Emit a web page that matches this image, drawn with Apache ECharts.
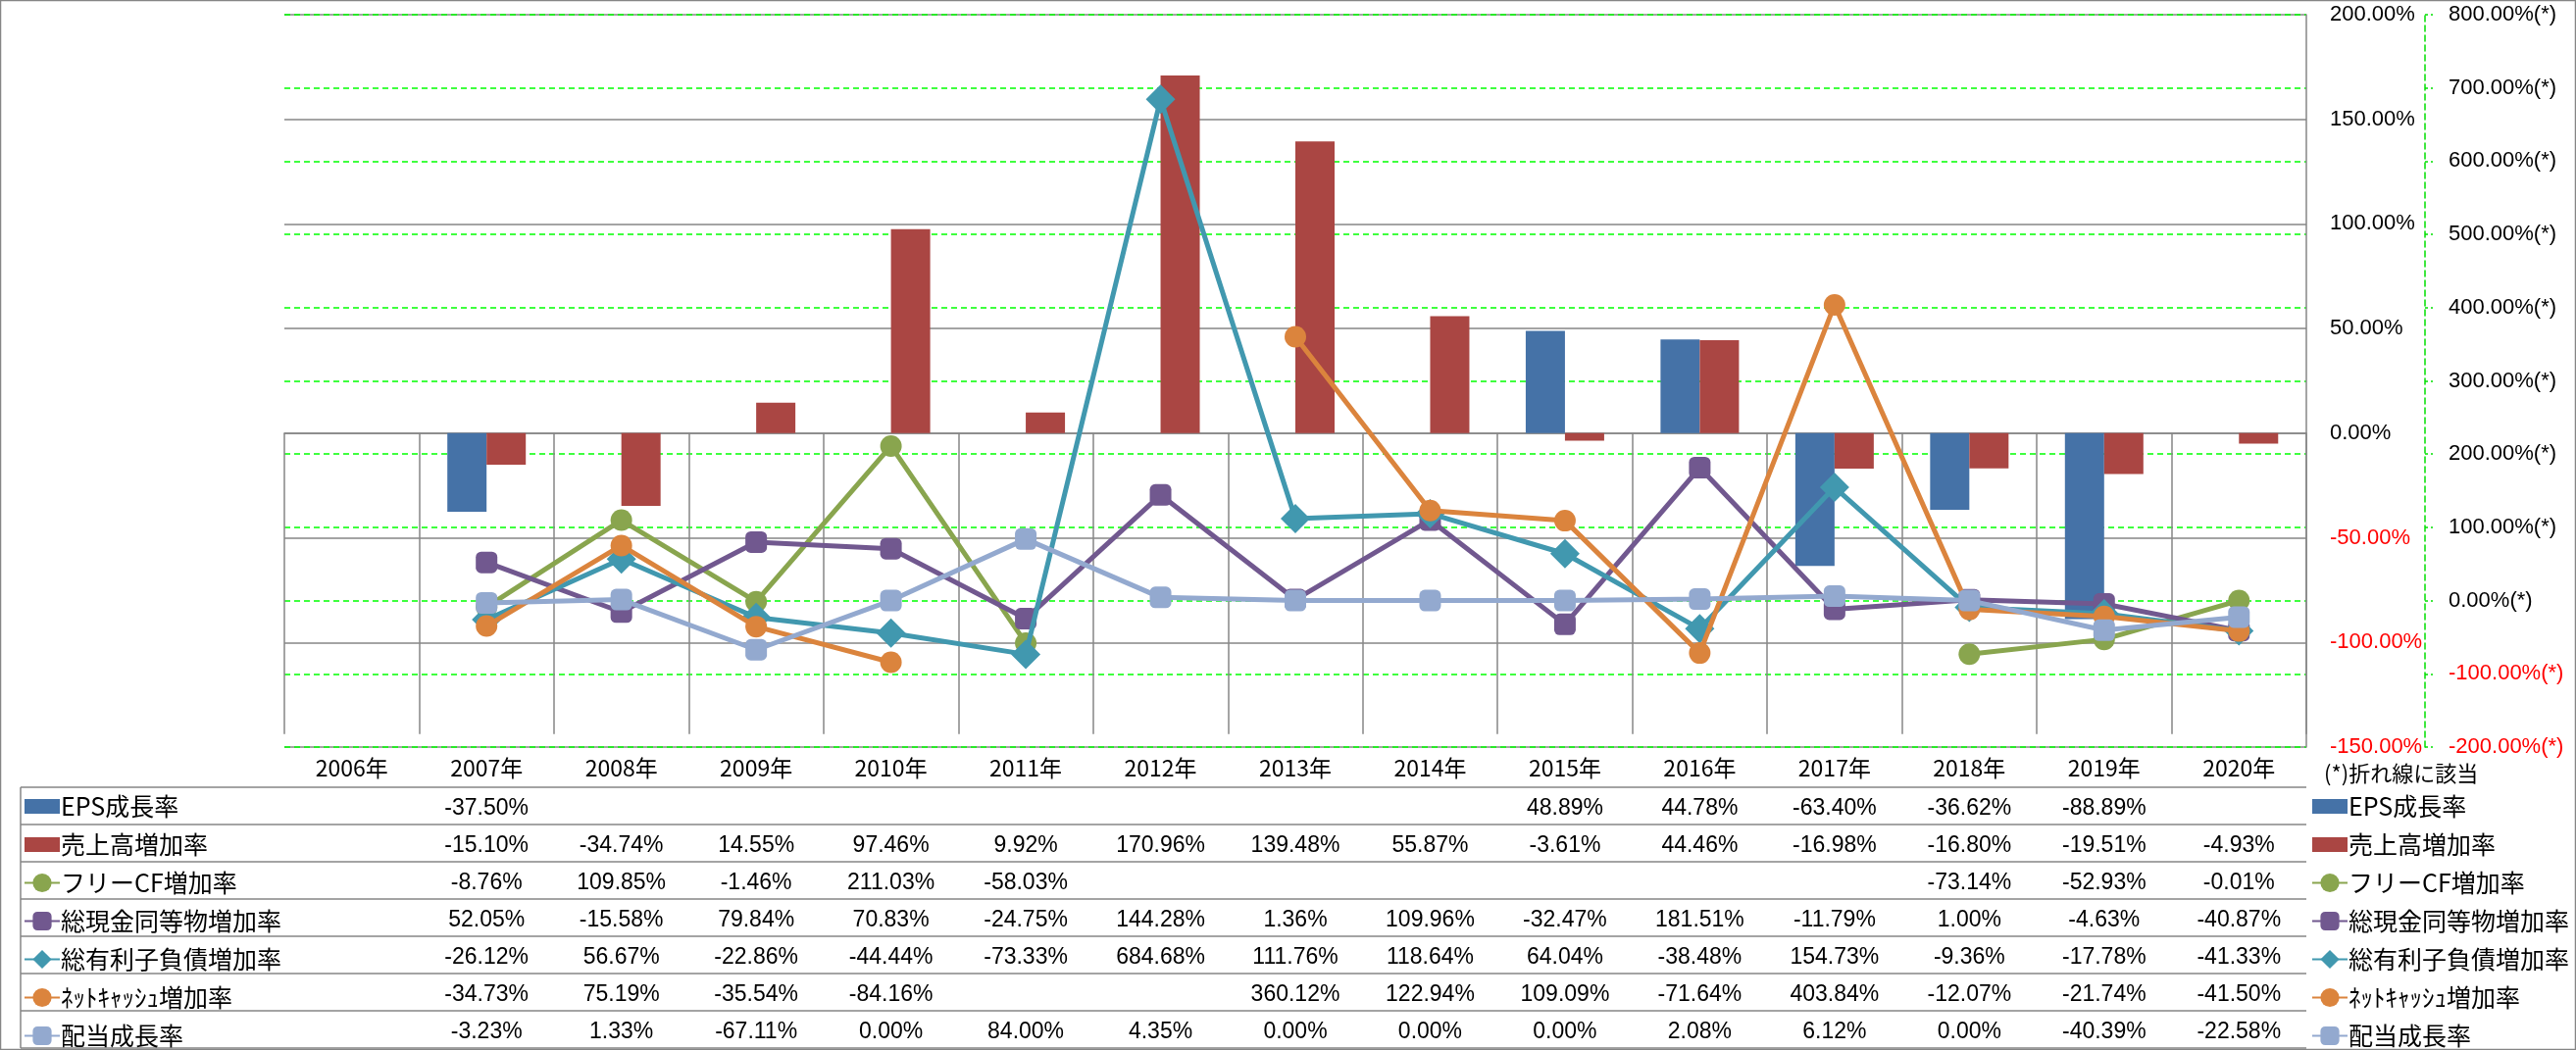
<!DOCTYPE html>
<html><head><meta charset="utf-8">
<script src="https://cdn.jsdelivr.net/npm/echarts@6/dist/echarts.min.js"></script>
<style>html,body{margin:0;padding:0;background:#fff}#c{width:2627px;height:1071px}</style>
</head><body><div id="c"></div>
<script>
const years = ['2006年','2007年','2008年','2009年','2010年','2011年','2012年','2013年','2014年','2015年','2016年','2017年','2018年','2019年','2020年'];
const names = ['EPS成長率','売上高増加率','フリーCF増加率','総現金同等物増加率','総有利子負債増加率','ﾈｯﾄｷｬｯｼｭ増加率','配当成長率'];
const eps      = [null,-37.50,null,null,null,null,null,null,null,48.89,44.78,-63.40,-36.62,-88.89,null];
const sales    = [null,-15.10,-34.74,14.55,97.46,9.92,170.96,139.48,55.87,-3.61,44.46,-16.98,-16.80,-19.51,-4.93];
const freeCF   = [null,-8.76,109.85,-1.46,211.03,-58.03,null,null,null,null,null,null,-73.14,-52.93,-0.01];
const cash     = [null,52.05,-15.58,79.84,70.83,-24.75,144.28,1.36,109.96,-32.47,181.51,-11.79,1.00,-4.63,-40.87];
const debt     = [null,-26.12,56.67,-22.86,-44.44,-73.33,684.68,111.76,118.64,64.04,-38.48,154.73,-9.36,-17.78,-41.33];
const netCash  = [null,-34.73,75.19,-35.54,-84.16,null,null,360.12,122.94,109.09,-71.64,403.84,-12.07,-21.74,-41.50];
const dividend = [null,-3.23,1.33,-67.11,0.00,84.00,4.35,0.00,0.00,0.00,2.08,6.12,0.00,-40.39,-22.58];
const leftTicks = {min:-150, max:200, interval:50};
const rightTicks = {min:-200, max:800, interval:100};

const rows = [eps, sales, freeCF, cash, debt, netCash, dividend];
const colors = ['#4572A7','#AA4643','#89A54E','#71588F','#4198AF','#DB843D','#93A9CF'];
const symbols = [null,null,'circle','roundRect','diamond','circle','roundRect'];
const gray = '#868686';
const numFont = "'Liberation Sans', 'Noto Sans CJK JP', sans-serif";
const jpFont = "'Noto Sans CJK JP', 'Liberation Sans', sans-serif";
const fmt = v => (v === null || v === undefined) ? '' : v.toFixed(2) + '%';

const chart = echarts.init(document.getElementById('c'), null, {renderer:'canvas'});

const xAxes = [{
  type:'category', data: years, position:'bottom', gridIndex:0,
  boundaryGap:true,
  axisLine:{show:true, lineStyle:{color:gray, width:1.5}},
  axisTick:{show:true, alignWithLabel:false, interval:0, length:307, lineStyle:{color:gray, width:1.5}},
  axisLabel:{interval:0, margin:10, fontSize:23, color:'#000', fontFamily:jpFont},
  splitLine:{show:false}
}].concat(rows.map((r,i)=>({
  type:'category', data: years, position:'bottom', gridIndex:0, offset: 41 + 38*i,
  axisLine:{show:false}, axisTick:{show:false}, splitLine:{show:false},
  axisLabel:{interval:0, margin:10, fontSize:23, color:'#000', fontFamily:numFont,
    formatter:(v, idx)=>fmt(r[idx])}
})));

const series = rows.map((r,i)=>{
  if (i < 2) {
    return {name:names[i], type:'bar', xAxisIndex:0, yAxisIndex:0, data:r,
      barWidth:40, barGap:'0%', itemStyle:{color:colors[i]}, z:2};
  }
  return {name:names[i], type:'line', xAxisIndex:0, yAxisIndex:1, data:r,
    connectNulls:false, symbol:symbols[i], symbolSize: symbols[i]==='diamond'?30:22,
    showSymbol:true,
    lineStyle:{color:colors[i], width:5}, itemStyle:{color:colors[i]}, z:3+i};
});

const barIcon = 'path://M0,0L34,0L34,14L0,14Z';
const legendData = names.map((n,i)=> i<2 ? {name:n, icon:barIcon} : {name:n});
const legendCommon = {orient:'vertical', top:810, padding:0, height:280, itemWidth:36, itemHeight:24, itemGap:14,
  textStyle:{fontSize:25, lineHeight:24, color:'#000', fontFamily:jpFont, padding:[0,0,0,-4]},
  data:legendData, selectedMode:false};

const tableLines = [];
for (let i=0;i<=7;i++){
  const y = 803 + 38*i;
  tableLines.push({type:'line', shape:{x1:21, y1:y, x2:2352, y2:y}, style:{stroke:gray, lineWidth:1.5}, silent:true});
}
tableLines.push({type:'line', shape:{x1:21, y1:803, x2:21, y2:1069}, style:{stroke:gray, lineWidth:1.5}, silent:true});
tableLines.push({type:'rect', shape:{x:0.5, y:0.5, width:2626, height:1070}, style:{stroke:gray, fill:null, lineWidth:1.5}, silent:true});
tableLines.push({type:'text', left:2370, top:778, style:{text:'(*)折れ線に該当', font:"22px 'Noto Sans CJK JP'", fill:'#000'}, silent:true});

chart.setOption({
  animation:false,
  backgroundColor:'#fff',
  grid:{left:290, right:275, top:15, bottom:309, containLabel:false, outerBoundsMode:'none'},
  legend:[
    Object.assign({left:24}, legendCommon),
    Object.assign({left:2357}, legendCommon)
  ],
  xAxis: xAxes,
  yAxis:[
    {type:'value', position:'right', min:leftTicks.min, max:leftTicks.max, interval:leftTicks.interval,
     axisLine:{show:true, lineStyle:{color:gray, width:1.5}}, axisTick:{show:false},
     splitLine:{show:true, lineStyle:{color:gray, width:1.5}},
     axisLabel:{margin:24, fontSize:22, fontFamily:numFont, align:'left',
       formatter:v=>v.toFixed(2)+'%', color:v=> v<0 ? '#FF0000' : '#000'}},
    {type:'value', position:'right', offset:121, min:rightTicks.min, max:rightTicks.max, interval:rightTicks.interval,
     axisLine:{show:true, lineStyle:{color:'#00E000', width:1.5, type:[6,4]}},
     axisTick:{show:true, length:8, lineStyle:{color:'#00E000', width:1.5, type:[3,3]}},
     splitLine:{show:true, lineStyle:{color:'#00FF00', width:1.5, type:[6,4]}},
     axisLabel:{margin:24, fontSize:22, fontFamily:numFont, align:'left',
       formatter:v=>v.toFixed(2)+'%(*)', color:v=> v<0 ? '#FF0000' : '#000'}}
  ],
  series: series,
  graphic: tableLines
});
</script></body></html>
